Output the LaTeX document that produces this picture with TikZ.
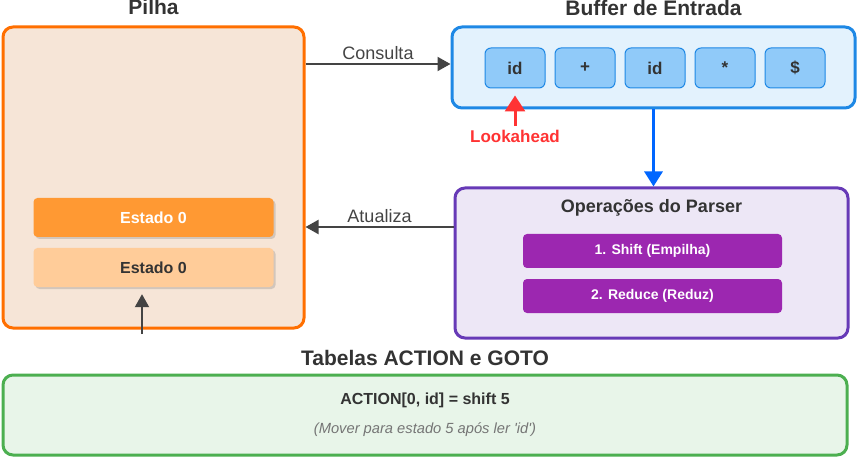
\documentclass[tikz,border=0pt]{standalone}
\usepackage{fontspec}
\setmainfont{Liberation Sans}
\usetikzlibrary{positioning,arrows.meta,shadows}

\definecolor{textoescuro}{HTML}{333333}
\definecolor{cinzaseta}{HTML}{444444}
\definecolor{pilhaborda}{HTML}{FF6F00}
\definecolor{pilhafundo}{HTML}{F6E5D7}
\definecolor{estadoforte}{HTML}{FF9933}
\definecolor{estadofraco}{HTML}{FFCC99}
\definecolor{bufferborda}{HTML}{1E88E5}
\definecolor{bufferfundo}{HTML}{E3F2FD}
\definecolor{tokenfundo}{HTML}{90CAF9}
\definecolor{vermelho}{HTML}{FF3333}
\definecolor{azulseta}{HTML}{0066FF}
\definecolor{parserborda}{HTML}{673AB7}
\definecolor{parserfundo}{HTML}{EDE7F6}
\definecolor{opfundo}{HTML}{9C27B0}
\definecolor{tabelaborda}{HTML}{4CAF50}
\definecolor{tabelafundo}{HTML}{E8F5E9}
\definecolor{cinzanota}{HTML}{757575}

\begin{document}
\begin{tikzpicture}[x=1pt, y=-1pt]
		\tikzstyle{titulo} = [font=\fontsize{21}{25}\selectfont\bfseries, text=textoescuro, anchor=base]
		\tikzstyle{caixa} = [rectangle, rounded corners=10pt, line width=3pt, inner sep=0pt]
		\tikzstyle{estado} = [rectangle, rounded corners=4pt, minimum width=240pt, minimum height=39pt, font=\fontsize{16}{19}\selectfont\bfseries, drop shadow={opacity=0.3, shadow xshift=2pt, shadow yshift=-2pt}]
		\tikzstyle{token} = [rectangle, rounded corners=6pt, draw=bufferborda, line width=1pt, fill=tokenfundo, minimum width=60pt, minimum height=40pt, font=\fontsize{17}{20}\selectfont\bfseries, text=textoescuro]
		\tikzstyle{opcaixa} = [rectangle, rounded corners=4pt, fill=opfundo, minimum width=259pt, minimum height=34pt, font=\fontsize{14}{17}\selectfont\bfseries, text=white]
		\tikzstyle{rotulo} = [font=\fontsize{18}{21}\selectfont, text=cinzaseta, inner sep=3pt]
		\tikzstyle{seta} = [draw=cinzaseta, line width=2pt, -{Triangle[length=13pt, width=14pt]}]
		\useasboundingbox (0,0) rectangle (857,457);
		% pilha
		\node[caixa, draw=pilhaborda, fill=pilhafundo, minimum width=301pt, minimum height=301pt] (pilha) at (153.5,177.5) {};
		\node[titulo] (tpilha) at (153.5,15) {Pilha};
		\node[estado, fill=estadoforte, text=white] (estadoa) at (153.5,217.5) {Estado 0};
		\node[estado, fill=estadofraco, text=textoescuro] (estadob) at (153.5,267.5) {Estado 0};
		\coordinate (entrada) at (142,334);
		\draw[seta, shorten >=7pt] (entrada) -- (entrada |- estadob.south);
		% buffer de entrada
		\node[caixa, draw=bufferborda, fill=bufferfundo, minimum width=403pt, minimum height=81pt] (buffer) at (653.5,67.5) {};
		\node[titulo] (tbuffer) at (653.5,16) {Buffer de Entrada};
		\foreach \i/\simb in {1/id, 2/+, 3/id, 4/*, 5/\$}
		{
			\node[token] (tok\i) at (445+70*\i,68) {\simb};
		}
		\node[font=\fontsize{17}{20}\selectfont\bfseries, text=vermelho] (look) at (515,136) {Lookahead};
		\draw[draw=vermelho, line width=3pt, -{Triangle[length=16pt, width=20pt]}, shorten >=7pt] (look.north) -- (tok1.south);
		% operacoes do parser
		\node[caixa, draw=parserborda, fill=parserfundo, minimum width=393pt, minimum height=150pt] (parser) at (651.5,263) {};
		\node[font=\fontsize{18}{21}\selectfont\bfseries, text=textoescuro] (tparser) at (651.5,208) {Operações do Parser};
		\node[opcaixa] (shift) at (652.5,251) {1. Shift (Empilha)};
		\node[opcaixa] (reduce) at (652.5,296) {2. Reduce (Reduz)};
		\draw[draw=azulseta, line width=3pt, -{Triangle[length=15pt, width=18pt]}] (buffer.south) -- (buffer.south |- parser.north);
		\draw[seta] (pilha.east |- 0,64) -- node[rotulo, above] {Consulta} (buffer.west |- 0,64);
		\draw[seta] (parser.west |- 0,227) -- node[rotulo, above] {Atualiza} (pilha.east |- 0,227);
		% tabelas
		\node[titulo] (ttabela) at (425,365) {Tabelas ACTION e GOTO};
		\node[caixa, draw=tabelaborda, fill=tabelafundo, minimum width=844pt, minimum height=80pt] (tabela) at (425,415) {};
		\node[font=\fontsize{16}{19}\selectfont\bfseries, text=textoescuro] (acao) at (425,400) {ACTION[0, id] = shift 5};
		\node[font=\fontsize{14.7}{17}\selectfont\itshape, text=cinzanota] (nota) at (425,430) {(Mover para estado 5 após ler \textquotesingle id\textquotesingle)};
\end{tikzpicture}
\end{document}
